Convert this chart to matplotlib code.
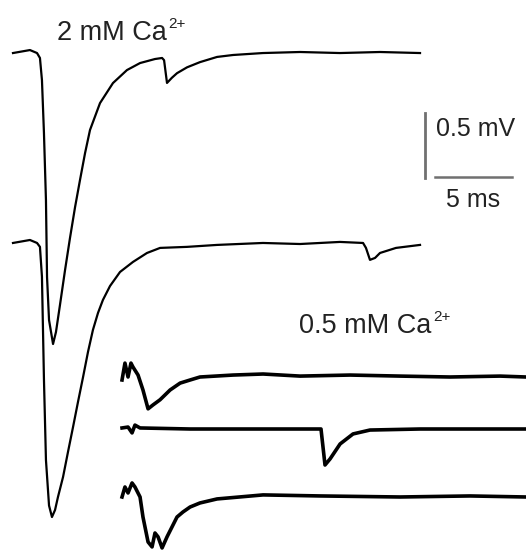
import matplotlib
matplotlib.use("Agg")
import matplotlib.pyplot as plt
import numpy as np

plt.rcParams['font.family'] = ['Liberation Sans', 'DejaVu Sans']

# 2 mM Ca2+ : two sweeps (time in ms, voltage in mV relative to baseline)
t_2mM_a = [0, 1.10, 1.56, 1.75, 1.88, 2.01, 2.14, 2.21, 2.34, 2.60, 2.79, 3.05, 3.38, 3.70,
           4.03, 4.35, 4.68, 5.00, 5.65, 6.49, 7.40, 8.25, 9.22, 9.68, 9.81, 10.0, 10.32,
           10.65, 11.30, 12.14, 13.25, 14.29, 16.23, 18.64, 21.23, 23.83, 26.43]
v_2mM_a = [0, 0.023, 0, -0.038, -0.208, -0.615, -1.131, -1.723, -2.054, -2.238, -2.146,
           -1.938, -1.669, -1.423, -1.185, -0.977, -0.769, -0.592, -0.385, -0.231, -0.131,
           -0.077, -0.046, -0.038, -0.055, -0.23, -0.19, -0.155, -0.11, -0.07, -0.03,
           -0.015, 0, 0.008, 0, 0.008, 0]

t_2mM_b = [0, 1.10, 1.56, 1.75, 1.88, 2.01, 2.14, 2.34, 2.53, 2.73, 2.92, 3.25, 3.57, 3.90,
           4.22, 4.55, 4.87, 5.19, 5.52, 5.84, 6.30, 6.95, 7.79, 8.70, 9.55, 11.30, 13.25,
           16.23, 18.64, 21.23, 22.73, 22.92, 23.18, 23.51, 23.83, 24.87, 26.43]
v_2mM_b = [0, 0.023, 0, -0.03, -0.26, -1.05, -1.67, -2.02, -2.108, -2.054, -1.954, -1.80,
           -1.608, -1.415, -1.223, -1.031, -0.838, -0.669, -0.538, -0.438, -0.331, -0.223,
           -0.146, -0.077, -0.038, -0.03, -0.015, 0, -0.008, 0.008, 0, -0.038, -0.13,
           -0.115, -0.077, -0.038, -0.015]

# 0.5 mM Ca2+ : three sweeps
t_05_a = [0, 0.19, 0.39, 0.58, 0.71, 1.04, 1.36, 1.69, 2.01, 2.47, 3.12, 3.77, 4.42, 5.06,
          7.21, 9.16, 11.56, 14.81, 18.05, 21.30, 24.55, 26.23]
v_05_a = [-0.038, 0.092, -0.015, 0.092, 0.062, 0, -0.115, -0.26, -0.23, -0.19, -0.115,
          -0.062, -0.038, -0.015, 0, 0.008, -0.008, 0, -0.008, -0.015, -0.008, -0.015]

t_05_b = [0, 0.39, 0.65, 0.84, 1.17, 4.42, 8.31, 11.56, 12.92, 13.18, 13.51, 14.16, 15.00,
          16.10, 19.35, 22.60, 26.23]
v_05_b = [0.008, 0.015, -0.03, 0.03, 0.008, 0, 0, 0, 0, -0.277, -0.23, -0.115, -0.038,
          -0.008, 0, 0, 0]

t_05_c = [0, 0.19, 0.39, 0.65, 0.84, 1.17, 1.36, 1.69, 1.95, 2.14, 2.34, 2.60, 2.92, 3.57,
          3.96, 4.42, 5.06, 6.17, 9.16, 12.86, 18.05, 22.60, 26.23]
v_05_c = [-0.008, 0.069, 0.023, 0.1, 0.069, -0.008, -0.162, -0.354, -0.392, -0.285, -0.315,
          -0.4, -0.315, -0.162, -0.123, -0.085, -0.054, -0.023, 0.008, 0, -0.008, 0, -0.008]

# layout: vertical offsets (mV) and start times (ms) of each sweep
off_2mM = [-0.408, -1.869]
off_05 = [-2.885, -3.300, -3.815]
start_05 = 7.08

fig = plt.figure(figsize=(5.26, 5.54), dpi=100)
ax = fig.add_axes([0, 0, 1, 1])
ax.set_xlim(-13 / 15.4, 513 / 15.4)
ax.set_ylim(-554 / 130, 0)
ax.axis('off')

for t, v, off in [(t_2mM_a, v_2mM_a, off_2mM[0]), (t_2mM_b, v_2mM_b, off_2mM[1])]:
    ax.plot(t, np.array(v) + off, color='black', lw=1.6, solid_joinstyle='round')

for t, v, off in [(t_05_a, v_05_a, off_05[0]), (t_05_b, v_05_b, off_05[1]), (t_05_c, v_05_c, off_05[2])]:
    ax.plot(np.array(t) + start_05, np.array(v) + off, color='black', lw=2.6,
            solid_joinstyle='round')

# scale bars
ax.plot([26.75, 26.75], [-0.869, -1.369], color='#707070', lw=2)
ax.plot([27.40, 32.40], [-1.362, -1.362], color='#707070', lw=1.8)
ax.text(27.5, -0.99, '0.5 mV', fontsize=18, ha='left', va='center', color='#222222')
ax.text(29.9, -1.54, '5 ms', fontsize=18, ha='center', va='center', color='#222222')

# condition labels with small superscript
fig.canvas.draw()
for x, y, s in [(2.85, -0.308, '2 mM Ca'), (18.6, -2.562, '0.5 mM Ca')]:
    lab = ax.text(x, y, s, fontsize=19.5, ha='left', va='baseline', color='#222222')
    bb = lab.get_window_extent(renderer=fig.canvas.get_renderer())
    ax.annotate('2+', xy=(bb.x1, bb.y0), xycoords='figure pixels',
                xytext=(1.5, 18), textcoords='offset pixels',
                fontsize=11, ha='left', va='baseline', color='#222222')

fig.savefig('out.png', dpi=100)
